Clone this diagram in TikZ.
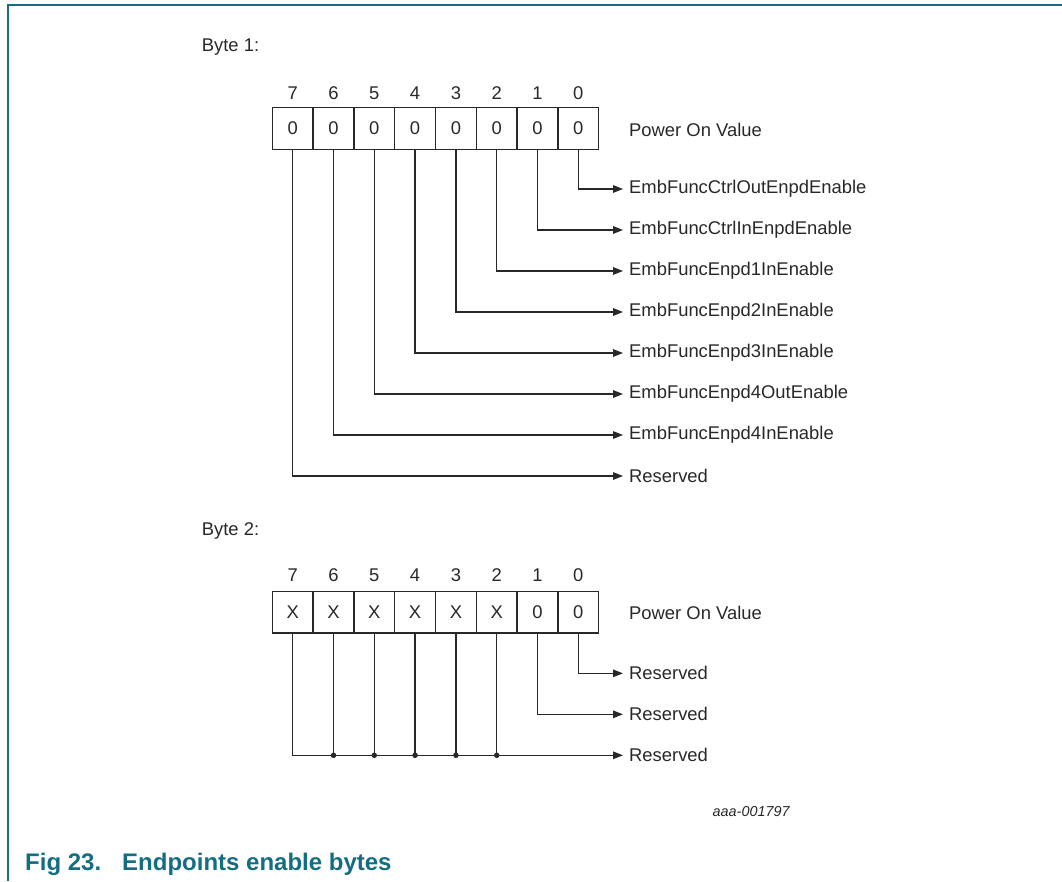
\documentclass[tikz,border=0pt]{standalone}
\usepackage{fontspec}
\setmainfont{Liberation Sans}
\usetikzlibrary{arrows.meta}
\definecolor{nxpteal}{RGB}{20,110,130}
\definecolor{ink}{RGB}{40,40,40}
\begin{document}
\begin{tikzpicture}[x=1pt,y=-1pt,
  txt/.style={font=\fontsize{18.4}{22}\selectfont, text=ink, inner sep=0pt},
  cell/.style={draw=ink, line width=1.4pt, minimum width=40.8pt, minimum height=41.6pt, inner sep=0pt, font=\fontsize{18.4}{22}\selectfont, text=ink},
  bitno/.style={txt},
  lbl/.style={txt, anchor=west, inner xsep=6pt, inner ysep=0pt},
  wire/.style={draw=ink, line width=1.4pt},
  arr/.style={wire, -{Triangle[length=10pt,width=7.5pt]}},
  frame/.style={draw=nxpteal, line width=2pt},
  jdot/.style={fill=ink, circle, inner sep=0pt, minimum size=5.5pt}
]
\useasboundingbox (0,0) rectangle (1062,881);
\draw[frame] (8,881) -- (8,5) -- (1062,5);

% ---------- Byte 1 ----------
\node[txt, anchor=west] (byte1) at (201.7,46.7) {Byte 1:};
\foreach \b [count=\i from 0] in {7,6,5,4,3,2,1,0} {
  \node[cell] (a\b) at ({292.7+40.8*\i},128.5) {0};
  \node[bitno] (an\b) at ({292.7+40.8*\i},93) {\b};
}
\node[txt, anchor=west] (apov) at (629,130) {Power On Value};

\node[lbl] (al0) at (623,189) {EmbFuncCtrlOutEnpdEnable};
\node[lbl] (al1) at (623,230) {EmbFuncCtrlInEnpdEnable};
\node[lbl] (al2) at (623,271) {EmbFuncEnpd1InEnable};
\node[lbl] (al3) at (623,312) {EmbFuncEnpd2InEnable};
\node[lbl] (al4) at (623,353) {EmbFuncEnpd3InEnable};
\node[lbl] (al5) at (623,394) {EmbFuncEnpd4OutEnable};
\node[lbl] (al6) at (623,435) {EmbFuncEnpd4InEnable};
\node[lbl] (al7) at (623,476) {Reserved};
\foreach \b in {0,...,7} {
  \draw[arr] (a\b.south) |- (al\b.west);
}

% ---------- Byte 2 ----------
\node[txt, anchor=west] (byte2) at (201.7,530.7) {Byte 2:};
\foreach \b/\v [count=\i from 0] in {7/X,6/X,5/X,4/X,3/X,2/X,1/0,0/0} {
  \node[cell] (c\b) at ({292.7+40.8*\i},612.2) {\v};
  \node[bitno] (cn\b) at ({292.7+40.8*\i},575.5) {\b};
}
\node[txt, anchor=west] (cpov) at (629,613) {Power On Value};

\node[lbl] (cl0) at (623,673.3) {Reserved};
\node[lbl] (cl1) at (623,714.3) {Reserved};
\node[lbl] (cl2) at (623,755.3) {Reserved};
\draw[arr] (c0.south) |- (cl0.west);
\draw[arr] (c1.south) |- (cl1.west);
\draw[arr] (c7.south) |- (cl2.west);
\foreach \b in {6,5,4,3,2} {
  \draw[wire] (c\b.south) -- (c\b.south |- cl2.west) node[jdot] {};
}

\node[font=\fontsize{14.4}{17}\selectfont\itshape, text=ink, inner sep=0pt, anchor=west] (code) at (712.5,812) {aaa-001797};

% ---------- caption ----------
\node[font=\fontsize{24}{28}\selectfont\bfseries, text=nxpteal, inner sep=0pt, anchor=base west] (capnum) at (25,870) {Fig 23.};
\node[font=\fontsize{24}{28}\selectfont\bfseries, text=nxpteal, inner sep=0pt, anchor=base west] (captxt) at (122,870) {Endpoints enable bytes};
\end{tikzpicture}
\end{document}
